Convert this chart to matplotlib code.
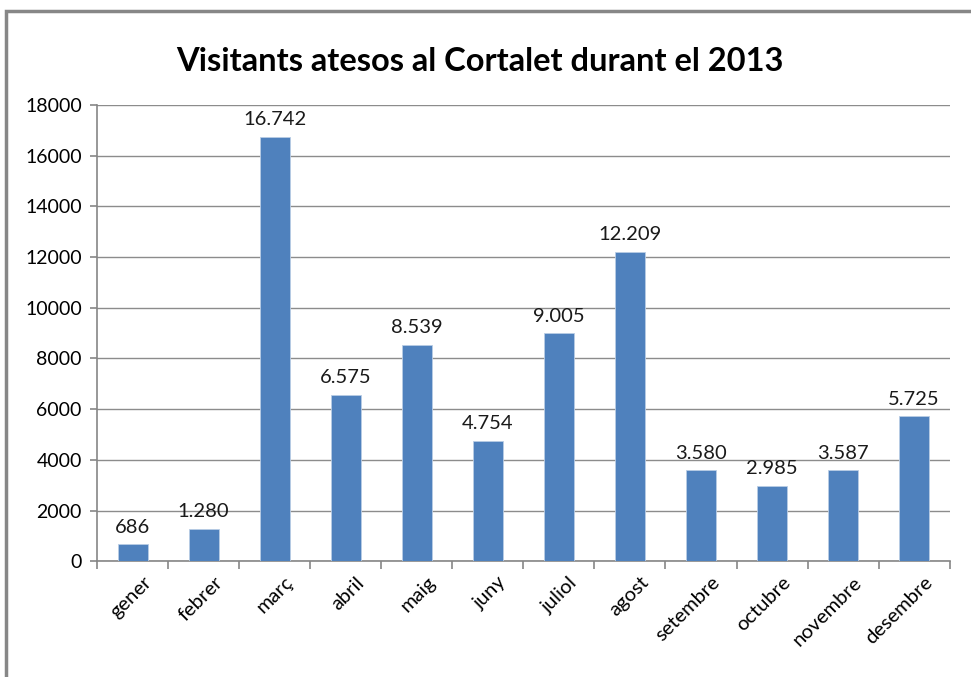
import numpy as np
import matplotlib.pyplot as plt
import matplotlib.transforms as mtransforms
from matplotlib.patches import Rectangle

# dades
mesos = ['gener', 'febrer', 'març', 'abril', 'maig', 'juny', 'juliol',
         'agost', 'setembre', 'octubre', 'novembre', 'desembre']
visitants = [686, 1280, 16742, 6575, 8539, 4754, 9005, 12209, 3580, 2985, 3587, 5725]
yticks = list(range(0, 18001, 2000))

plt.rcParams['font.family'] = ['Lato', 'DejaVu Sans']

fig = plt.figure(figsize=(9.71, 6.77), dpi=100)
ax = fig.add_axes([0.100, 0.171, 0.878, 0.674])

x = np.arange(len(mesos))
bars = ax.bar(x, visitants, width=0.42, color='#4F81BD', edgecolor='#B9CDE5',
              linewidth=0.6, zorder=3)

# etiquetes de dades amb punt de milers
for xi, v in zip(x, visitants):
    txt = f'{v:,}'.replace(',', '.')
    ax.annotate(txt, (xi, v), xytext=(0, 6), textcoords='offset points',
                ha='center', va='bottom', fontsize=14.5, color='#1a1a1a')

ax.set_xlim(-0.5, len(mesos) - 0.5)
ax.set_ylim(0, 18000)
ax.set_yticks(yticks)
ax.set_yticklabels([str(t) for t in yticks], fontsize=14)
ax.yaxis.grid(True, color='#8c8c8c', linewidth=1.0, zorder=0)
ax.set_axisbelow(True)

ax.set_xticks(x)
ax.set_xticklabels(mesos, rotation=45, ha='right', rotation_mode='anchor', fontsize=14.5)
ax.set_xticks(np.arange(-0.5, len(mesos)), minor=True)
ax.tick_params(axis='x', which='major', length=0, pad=9)
ax.tick_params(axis='x', which='minor', length=6, width=1.2, color='#868686', direction='out')
ax.tick_params(axis='y', length=5, width=1.2, color='#868686', direction='out', pad=6)
shift = mtransforms.ScaledTranslation(10 / 100, 0, fig.dpi_scale_trans)
for lbl in ax.get_xticklabels():
    lbl.set_transform(lbl.get_transform() + shift)

for s in ['top', 'right']:
    ax.spines[s].set_visible(False)
for s in ['left', 'bottom']:
    ax.spines[s].set_color('#868686')
    ax.spines[s].set_linewidth(1.2)

fig.text(0.494, 0.909, 'Visitants atesos al Cortalet durant el 2013', ha='center', va='center',
         fontsize=23.5, fontweight='bold', color='black')

# vora del gràfic
fig.patches.append(Rectangle((6 / 971, -0.05), 1.2, (677 - 11) / 677 + 0.05,
                             transform=fig.transFigure, fill=False,
                             edgecolor='#878787', linewidth=2.5))

fig.savefig('out.png', dpi=100)
